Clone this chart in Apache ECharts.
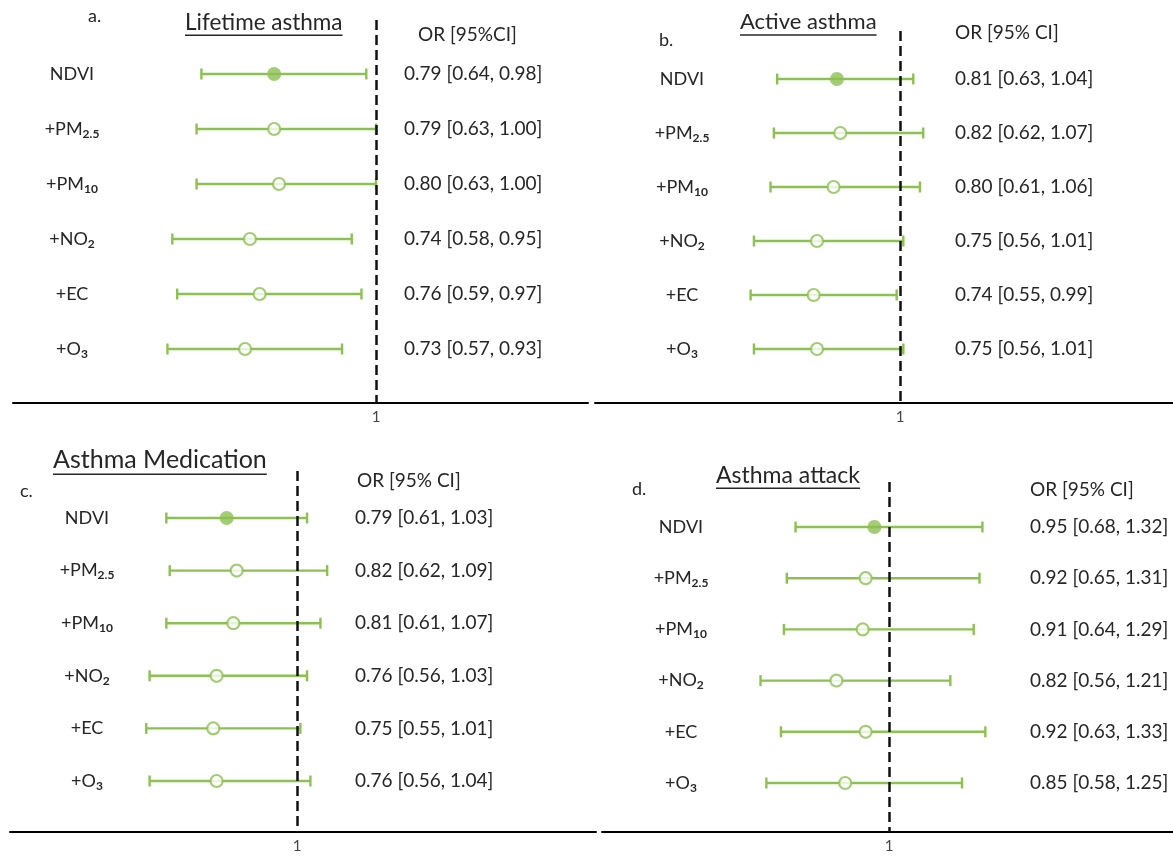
<!DOCTYPE html>
<html><head><meta charset="utf-8">
<script src="https://cdn.jsdelivr.net/npm/echarts@6/dist/echarts.min.js"></script>
<style>html,body{margin:0;padding:0;background:#fff}#chart{width:1173px;height:858px}</style>
</head><body><div id="chart"></div>
<script>
// ---------- data ----------
const rowLabels = ['NDVI', '+PM{s|2.5}', '+PM{s|10}', '+NO{s|2}', '+EC', '+O{s|3}'];
const panelTitles = ['Lifetime asthma', 'Active asthma', 'Asthma Medication', 'Asthma attack'];
const panelTags = ['a.', 'b.', 'c.', 'd.'];
const orHeaders = ['OR [95%CI]', 'OR [95% CI]', 'OR [95% CI]', 'OR [95% CI]'];
const refTick = [1];

const lifetimeOR = [0.79, 0.79, 0.80, 0.74, 0.76, 0.73];
const lifetimeLo = [0.64, 0.63, 0.63, 0.58, 0.59, 0.57];
const lifetimeHi = [0.98, 1.00, 1.00, 0.95, 0.97, 0.93];

const activeOR = [0.81, 0.82, 0.80, 0.75, 0.74, 0.75];
const activeLo = [0.63, 0.62, 0.61, 0.56, 0.55, 0.56];
const activeHi = [1.04, 1.07, 1.06, 1.01, 0.99, 1.01];

const medicationOR = [0.79, 0.82, 0.81, 0.76, 0.75, 0.76];
const medicationLo = [0.61, 0.62, 0.61, 0.56, 0.55, 0.56];
const medicationHi = [1.03, 1.09, 1.07, 1.03, 1.01, 1.04];

const attackOR = [0.95, 0.92, 0.91, 0.82, 0.92, 0.85];
const attackLo = [0.68, 0.65, 0.64, 0.56, 0.63, 0.58];
const attackHi = [1.32, 1.31, 1.29, 1.21, 1.33, 1.25];

const panelData = [
  [lifetimeOR, lifetimeLo, lifetimeHi],
  [activeOR, activeLo, activeHi],
  [medicationOR, medicationLo, medicationHi],
  [attackOR, attackLo, attackHi]
];

// ---------- layout / style ----------
const FONT = 'Lato';
const GREEN = '#8cc152';
const TXT = '#262626';
const layout = [
  {left: 13,  right: 588,  axisY: 403, dashTop: 20,  row0: 74,  step: 55,   ref: 376, ppu: 485, labelCx: 72,  valX: 404,
   title: [185, 25], tag: [96, 17], head: [418, 36], titleSize: 22.5},
  {left: 595, right: 1173, axisY: 403, dashTop: 31,  row0: 79,  step: 54,   ref: 900, ppu: 332, labelCx: 682, valX: 955,
   title: [740, 25], tag: [667, 41], head: [955, 34], titleSize: 22},
  {left: 10,  right: 596,  axisY: 832, dashTop: 471, row0: 518, step: 52.6, ref: 297, ppu: 335, labelCx: 87,  valX: 355,
   title: [53, 463], tag: [28, 492], head: [357, 482], titleSize: 25},
  {left: 602, right: 1173, axisY: 832, dashTop: 482, row0: 527, step: 51.2, ref: 889, ppu: 292, labelCx: 681, valX: 1030,
   title: [716, 478], tag: [640, 490], head: [1030, 491], titleSize: 23}
];
const VAL_SIZE = 19, LAB_SIZE = 18, SUB_SIZE = 12;

const chart = echarts.init(document.getElementById('chart'));
const fmt = v => v.toFixed(2);
const ctx = document.createElement('canvas').getContext('2d');
function textWidth(t, size) { ctx.font = size + 'px ' + FONT; return ctx.measureText(t).width; }

const grid = [], xAxis = [], yAxis = [], series = [], graphic = [];
const subRich = {s: {fontSize: SUB_SIZE, fontFamily: FONT, fontWeight: 'bold', color: TXT, padding: [10, 0, 0, 0]}};
const rowIdx = rowLabels.map((_, k) => k);

layout.forEach((L, i) => {
  const [ors, los, his] = panelData[i];
  const xMin = 1 - (L.ref - L.left) / L.ppu;
  const xMax = 1 + (L.right - L.ref) / L.ppu;
  const yMin = -(L.row0 - L.dashTop) / L.step;
  const yMax = (L.axisY - L.row0) / L.step;
  grid.push({left: L.left, top: L.dashTop, width: L.right - L.left, height: L.axisY - L.dashTop});
  xAxis.push({
    gridIndex: i, type: 'value', min: xMin, max: xMax,
    axisLine: {show: true, onZero: false, lineStyle: {color: '#000', width: 2}},
    axisTick: {show: false}, splitLine: {show: false},
    axisLabel: {customValues: refTick, formatter: v => String(v), margin: 7, color: '#444', fontSize: 15, fontFamily: FONT}
  });
  yAxis.push({
    gridIndex: i, type: 'value', inverse: true, min: yMin, max: yMax,
    axisLine: {show: false}, axisTick: {show: false}, splitLine: {show: false},
    axisLabel: {customValues: rowIdx, formatter: v => rowLabels[v] || '', margin: -(L.labelCx - L.left), align: 'center',
      color: TXT, fontSize: LAB_SIZE, fontFamily: FONT, rich: subRich}
  });
  yAxis.push({
    gridIndex: i, type: 'value', position: 'right', inverse: true, min: yMin, max: yMax,
    axisLine: {show: false}, axisTick: {show: false}, splitLine: {show: false},
    axisLabel: {customValues: rowIdx, margin: L.valX - L.right, align: 'left', color: TXT, fontSize: VAL_SIZE, fontFamily: FONT,
      formatter: v => (ors[v] === undefined ? '' : fmt(ors[v]) + ' [' + fmt(los[v]) + ', ' + fmt(his[v]) + ']')}
  });
  series.push({
    type: 'custom', xAxisIndex: i, yAxisIndex: 2 * i, z: 2,
    data: ors.map((_, k) => [los[k], his[k], k]),
    encode: {x: [0, 1], y: 2},
    renderItem: (params, api) => {
      const a = api.coord([api.value(0), api.value(2)]);
      const b = api.coord([api.value(1), api.value(2)]);
      const st = {stroke: GREEN, lineWidth: 2.4};
      return {type: 'group', children: [
        {type: 'line', shape: {x1: a[0], y1: a[1], x2: b[0], y2: b[1]}, style: st},
        {type: 'line', shape: {x1: a[0], y1: a[1] - 5.5, x2: a[0], y2: a[1] + 5.5}, style: st},
        {type: 'line', shape: {x1: b[0], y1: b[1] - 5.5, x2: b[0], y2: b[1] + 5.5}, style: st}
      ]};
    }
  });
  series.push({
    type: 'scatter', xAxisIndex: i, yAxisIndex: 2 * i, z: 4, silent: true,
    data: ors.map((v, k) => ({
      value: [v, k],
      symbolSize: k === 0 ? 14 : 12,
      itemStyle: k === 0 ? {color: GREEN} : {color: '#fff', borderColor: GREEN, borderWidth: 2.2}
    })),
    markLine: {silent: true, symbol: 'none', z: 5, label: {show: false},
      lineStyle: {color: '#111', width: 2.5, type: [10, 5]}, data: [{xAxis: refTick[0]}]}
  });
  // titles, tags, headers
  const ts = L.titleSize;
  const tw = textWidth(panelTitles[i], ts);
  graphic.push({type: 'text', left: L.title[0], top: L.title[1] - ts * 0.62,
    style: {text: panelTitles[i], font: ts + 'px ' + FONT, fill: TXT}});
  graphic.push({type: 'line', shape: {x1: L.title[0], y1: L.title[1] + ts * 0.45, x2: L.title[0] + tw, y2: L.title[1] + ts * 0.45},
    style: {stroke: TXT, lineWidth: 1.5}});
  graphic.push({type: 'text', left: L.tag[0] - 8, top: L.tag[1] - 10,
    style: {text: panelTags[i], font: '18px ' + FONT, fill: TXT}});
  graphic.push({type: 'text', left: L.head[0], top: L.head[1] - 11,
    style: {text: orHeaders[i], font: VAL_SIZE + 'px ' + FONT, fill: TXT}});
});

chart.setOption({
  animation: false,
  backgroundColor: '#fff',
  textStyle: {fontFamily: FONT},
  grid, xAxis, yAxis, series, graphic
});
</script>
</body></html>
